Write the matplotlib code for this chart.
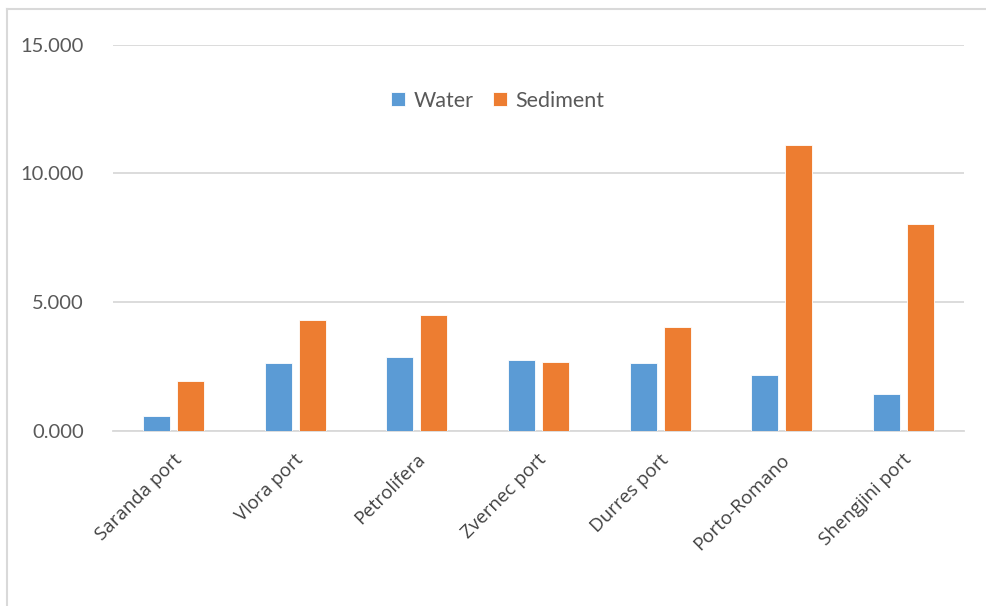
import matplotlib
matplotlib.use("Agg")
import matplotlib.pyplot as plt
import numpy as np
from matplotlib.lines import Line2D
import matplotlib.transforms as mtransforms

categories = ["Saranda port", "Vlora port", "Petrolifera", "Zvernec port",
              "Durres port", "Porto-Romano", "Shengjini port"]
water = [0.60, 2.63, 2.89, 2.76, 2.63, 2.18, 1.45]
sediment = [1.96, 4.31, 4.52, 2.68, 4.03, 11.10, 8.03]
yticks = [0, 5, 10, 15]
ytick_labels = ["0.000", "5.000", "10.000", "15.000"]

W, H = 987, 606
fig = plt.figure(figsize=(W / 100, H / 100), dpi=100)
fig.patch.set_facecolor("white")

ax = fig.add_axes([113 / W, (H - 431.3) / H, (964 - 113) / W, (431.3 - 44.5) / H])

x = np.arange(len(categories))
bw = 0.222
off = 0.14
ax.bar(x - off, water, width=bw, color="#5B9BD5", label="Water", zorder=3,
       edgecolor="white", linewidth=0.6)
ax.bar(x + off, sediment, width=bw, color="#ED7D31", label="Sediment", zorder=3,
       edgecolor="white", linewidth=0.6)

ax.set_xlim(-0.5, len(categories) - 0.5)
ax.set_ylim(0, 15)
ax.set_yticks(yticks)
ax.set_yticklabels(ytick_labels, fontfamily="Lato", fontsize=14.5, color="#595959")
ax.yaxis.grid(True, color="#d9d9d9", linewidth=1.3, zorder=0)
ax.tick_params(axis="y", length=0, pad=21)
ax.tick_params(axis="x", length=0, pad=6)
ax.set_xticks(x)
ax.set_xticklabels(categories, rotation=45, ha="right", va="top",
                   rotation_mode="anchor", fontfamily="Open Sans", fontsize=13.5,
                   color="#404040")
for lab in ax.get_xticklabels():
    lab.set_transform(lab.get_transform() + mtransforms.ScaledTranslation(-1 / 100, -11 / 100, fig.dpi_scale_trans))
for s in ["top", "right", "left"]:
    ax.spines[s].set_visible(False)
ax.spines["bottom"].set_color("#d9d9d9")
ax.spines["bottom"].set_linewidth(1.3)

leg = ax.legend(loc="center", bbox_to_anchor=(0.452, 0.855), ncol=2, frameon=False,
                prop={"family": "Lato", "size": 15.5}, handlelength=0.65, handleheight=0.65,
                handletextpad=0.4, columnspacing=0.9)
for t in leg.get_texts():
    t.set_color("#595959")

# chart border (top and left visible)
fig.add_artist(Line2D([7 / W, 1.0], [1 - 8.5 / H, 1 - 8.5 / H], color="#d9d9d9", linewidth=1.5))
fig.add_artist(Line2D([7 / W, 7 / W], [0, 1 - 8.5 / H], color="#d9d9d9", linewidth=1.5))

fig.savefig("out.png", dpi=100)
